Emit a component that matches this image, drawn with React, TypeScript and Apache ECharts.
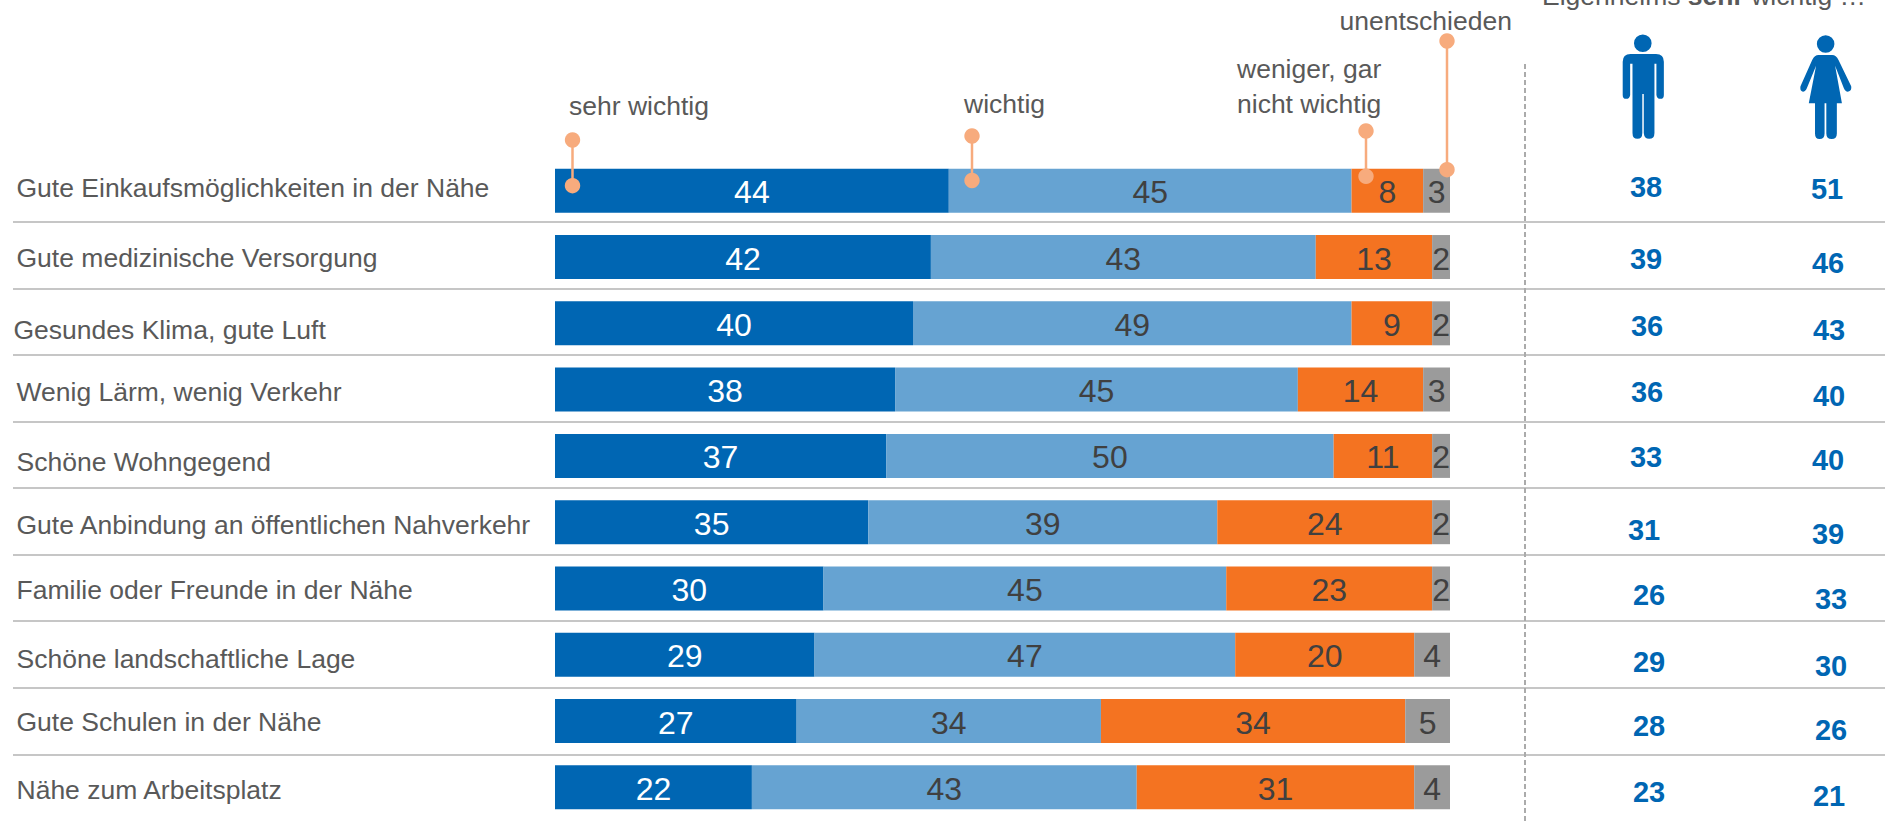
import React, { useEffect, useRef } from "react";
import * as echarts from "echarts";

const categories = [
  "Gute Einkaufsmöglichkeiten in der Nähe",
  "Gute medizinische Versorgung",
  "Gesundes Klima, gute Luft",
  "Wenig Lärm, wenig Verkehr",
  "Schöne Wohngegend",
  "Gute Anbindung an öffentlichen Nahverkehr",
  "Familie oder Freunde in der Nähe",
  "Schöne landschaftliche Lage",
  "Gute Schulen in der Nähe",
  "Nähe zum Arbeitsplatz",
];
const sehrWichtig = [44, 42, 40, 38, 37, 35, 30, 29, 27, 22];
const wichtig = [45, 43, 49, 45, 50, 39, 45, 47, 34, 43];
const wenigerGarNicht = [8, 13, 9, 14, 11, 24, 23, 20, 34, 31];
const unentschieden = [3, 2, 2, 3, 2, 2, 2, 4, 5, 4];
const maenner = [38, 39, 36, 36, 33, 31, 26, 29, 28, 23];
const frauen = [51, 46, 43, 40, 40, 39, 33, 30, 26, 21];
const columns = ["Männer", "Frauen"];

// layout nudges (px) of hand-placed labels in the original slide
const catNudgeX = [3, 3, 0, 3, 3, 3, 3, 3, 3, 3];
const catNudgeY = [0, 3, 8, 4, 7, 4, 2, 4.6, 0.7, 2.5];
const menNudgeX = [0, 0, 1, 1, 0, -2, 3, 3, 3, 3];
const menNudgeY = [-4, 2, 3, 2, 1, 8, 7, 7, 5, 4.5];
const womenNudgeX = [-1, 0, 1, 1, 0, 0, 3, 3, 3, 1];
const womenNudgeY = [-2, 6, 7, 6, 4, 12, 11, 11, 9, 8.5];

const FONT = "'Liberation Sans', Arial, sans-serif";
const BLUE = "#0066B3";
const LIGHT = "#66A3D2";
const ORANGE = "#F47321";
const GREY = "#9B9B9B";
const TXT = "#595959";
const NUM = "#404040";
const CALL = "#F7AB7D";

const MAN =
  "M11.5 -11 a9 9 0 1 0 18 0 a9 9 0 1 0 -18 0 Z M8 0 H34 Q42 0 42 8 V42 Q42 46 38.5 46 Q35 46 34.4 42 V10 H32.4 V81 Q32.4 87 27 87 Q22 87 21.5 81 V41 H20 V81 Q20 87 15 87 Q10 87 10 81 V10 H7.6 V42 Q7 46 3.5 46 Q0 46 0 42 V8 Q0 0 8 0 Z";
const WOMAN =
  "M17.3 -11.2 a9 9 0 1 0 18 0 a9 9 0 1 0 -18 0 Z M19 0 H33 Q37 0 39.5 5 L52.5 32 Q53.5 37 49 37.5 Q46.5 37.5 45 34 L36 11 L43 49.3 H9 L16.5 11 L7 34 Q5.5 37.5 3 37.5 Q-0.5 37 0.5 32 L12.5 5 Q15 0 19 0 Z M15.4 49 H25.2 V80 Q25.2 85.7 20 85.7 Q15.4 85.7 15.4 80 Z M27 49 H37.8 V80 Q37.8 85.7 32.5 85.7 Q27 85.7 27 80 Z";
echarts.graphic.registerShape("iconMan", echarts.graphic.extendPath(MAN, {}));
echarts.graphic.registerShape("iconWoman", echarts.graphic.extendPath(WOMAN, {}));

const callouts = [
  { x: 572.5, top: 140, bottom: 185.7 },
  { x: 972, top: 136, bottom: 180.5 },
  { x: 1366, top: 131, bottom: 176.3 },
  { x: 1447, top: 41, bottom: 169.7 },
];
const headTexts = [
  { text: "sehr wichtig", x: 569, y: 106 },
  { text: "wichtig", x: 964, y: 103.5 },
  { text: "weniger, gar", x: 1237, y: 69 },
  { text: "nicht wichtig", x: 1237, y: 104 },
  { text: "unentschieden", x: 1339.5, y: 20.7 },
];

function barSeries(name: string, data: number[], color: string, labelColor: string) {
  return {
    name,
    type: "bar",
    stack: "total",
    xAxisIndex: 0,
    yAxisIndex: 0,
    barWidth: 44,
    data,
    itemStyle: { color },
    label: {
      show: true,
      position: "inside",
      offset: [0, 1.5],
      color: labelColor,
      fontFamily: FONT,
      fontSize: 32,
    },
  };
}

function sideSeries(name: string, values: number[], nx: number[], ny: number[]) {
  return {
    name,
    type: "scatter",
    xAxisIndex: 2,
    yAxisIndex: 2,
    symbolSize: 1,
    itemStyle: { color: "transparent", opacity: 1 },
    data: values.map((v, i) => ({
      value: [name, categories[i], v],
      label: { offset: [nx[i], ny[i]] },
    })),
    label: {
      show: true,
      position: "inside",
      distance: 0,
      color: BLUE,
      fontFamily: FONT,
      fontWeight: "bold",
      fontSize: 29,
      formatter: (p: any) => String(p.value[2]),
    },
  };
}

export default function App() {
  const ref = useRef<HTMLDivElement>(null);
  useEffect(() => {
    document.body.style.margin = "0";
    const chart = echarts.init(ref.current!, undefined, { renderer: "svg" });
    const graphic: any[] = [
      {
        type: "line",
        shape: { x1: 1525, y1: 64, x2: 1525, y2: 822 },
        style: { stroke: "#ABABAB", lineWidth: 2, lineDash: [5, 3] },
        z: 5,
      },
      { type: "iconMan", x: 1622.7, y: 54, scaleX: 0.98, scaleY: 0.975, style: { fill: BLUE }, z: 5 },
      { type: "iconWoman", x: 1800, y: 55, scaleX: 0.975, scaleY: 0.98, style: { fill: BLUE }, z: 5 },
      {
        type: "text",
        x: 1542,
        y: -3.8,
        style: {
          text: "{n|Eigenheims }{b|sehr}{n| wichtig …}",
          verticalAlign: "middle",
          rich: {
            n: { fontFamily: FONT, fontSize: 26.5, fill: TXT },
            b: { fontFamily: FONT, fontSize: 26.5, fontWeight: "bold", fill: TXT },
          },
        },
        z: 5,
      },
    ];
    headTexts.forEach((t) =>
      graphic.push({
        type: "text",
        x: t.x,
        y: t.y,
        style: { text: t.text, fontFamily: FONT, fontSize: 26.5, fill: TXT, verticalAlign: "middle" },
        z: 5,
      })
    );
    callouts.forEach((c) => {
      graphic.push({
        type: "line",
        shape: { x1: c.x, y1: c.top, x2: c.x, y2: c.bottom },
        style: { stroke: CALL, lineWidth: 2.5 },
        z: 6,
      });
      [c.top, c.bottom].forEach((cy) =>
        graphic.push({
          type: "circle",
          shape: { cx: c.x, cy, r: 7.7 },
          style: { fill: CALL },
          z: 6,
        })
      );
    });

    chart.setOption({
      animation: false,
      backgroundColor: "#ffffff",
      tooltip: { show: false },
      legend: { show: false },
      grid: [
        { left: 555, width: 895, top: 157.6, height: 662.9 },
        { left: 13, right: 2, top: 155.13, height: 665.7 },
        { left: 1646, right: 59, top: 157.6, height: 662.9 },
      ],
      xAxis: [
        { type: "value", gridIndex: 0, min: 0, max: 100, show: false },
        { type: "value", gridIndex: 1, min: 0, max: 1, show: false },
        { type: "category", gridIndex: 2, data: columns, boundaryGap: false, show: false },
      ],
      yAxis: [
        { type: "category", gridIndex: 0, data: categories, inverse: true, show: false },
        {
          type: "category",
          gridIndex: 1,
          data: categories,
          inverse: true,
          axisLine: { show: false },
          axisTick: { show: false },
          axisLabel: { show: false },
          splitLine: {
            show: true,
            showMinLine: false,
            showMaxLine: false,
            lineStyle: { color: "#C6C6C6", width: 2 },
          },
        },
        { type: "category", gridIndex: 2, data: categories, inverse: true, show: false },
      ],
      series: [
        barSeries("sehr wichtig", sehrWichtig, BLUE, "#ffffff"),
        barSeries("wichtig", wichtig, LIGHT, NUM),
        barSeries("weniger, gar nicht wichtig", wenigerGarNicht, ORANGE, NUM),
        barSeries("unentschieden", unentschieden, GREY, NUM),
        {
          name: "Kategorien",
          type: "scatter",
          xAxisIndex: 1,
          yAxisIndex: 1,
          symbolSize: 1,
          itemStyle: { color: "transparent", opacity: 1 },
          data: categories.map((c, i) => ({
            value: [0, c],
            label: { offset: [catNudgeX[i], catNudgeY[i]] },
          })),
          label: {
            show: true,
            position: "right",
            distance: 0,
            color: TXT,
            fontFamily: FONT,
            fontSize: 26.5,
            formatter: (p: any) => p.value[1],
          },
        },
        sideSeries(columns[0], maenner, menNudgeX, menNudgeY),
        sideSeries(columns[1], frauen, womenNudgeX, womenNudgeY),
      ],
      graphic,
    });
    return () => chart.dispose();
  }, []);
  return <div ref={ref} style={{ position: "absolute", left: 0, top: 0, width: 1887, height: 824, overflow: "hidden" }} />;
}
